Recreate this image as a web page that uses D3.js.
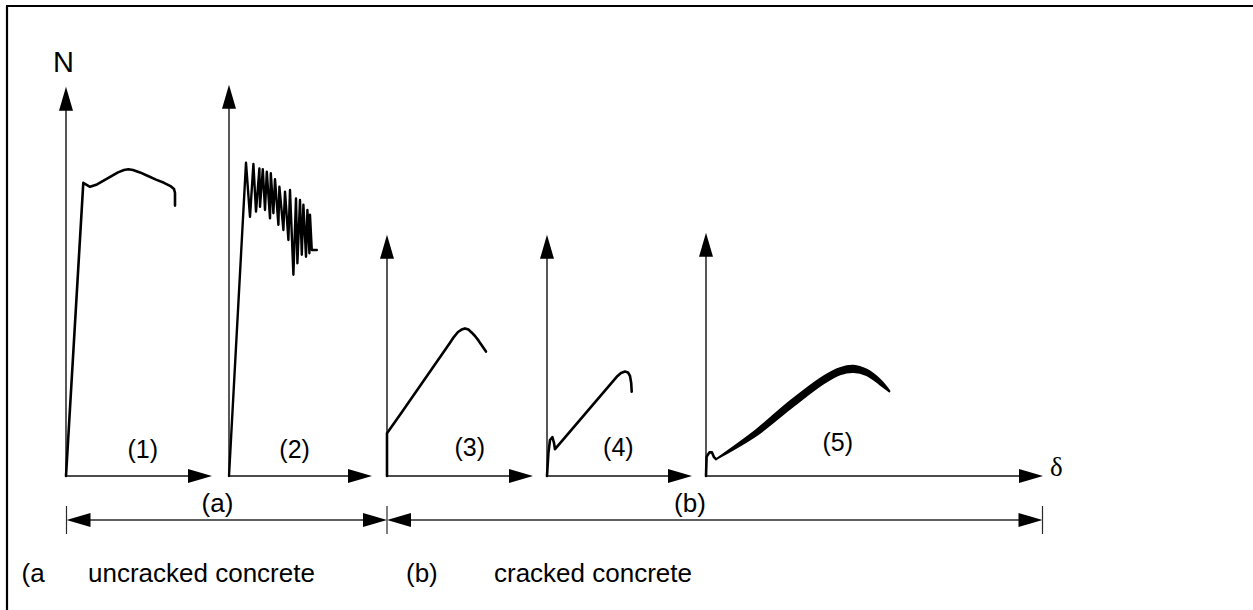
<!DOCTYPE html>
<html>
<head>
<meta charset="utf-8">
<script src="https://cdn.jsdelivr.net/npm/d3@7"></script>
<style>
  html, body { margin: 0; padding: 0; background: #fff; }
  svg { display: block; }
</style>
</head>
<body>
<div id="chart"></div>
<script>
/* Load (N) versus displacement (delta) curves.
** Units are arbitrary: every panel uses the same N scale, delta starts
** at 0 on each panel's own origin. Each point is [delta, N].
*/
var curve1 = [[0, 0], [8.65, 73.3], [12, 72.3], [15.5, 72.9], [19, 73.9], [22.5, 74.9], [26, 75.9],
              [29, 76.5], [31.2, 76.7], [33.5, 76.5], [37, 75.9], [41, 75], [45, 74.1], [49, 73.3],
              [52.5, 72.4], [54, 71.75], [54.5, 70.75], [54.5, 67.6]];

// (2) jumps up and down, so the points are the tops and bottoms of the teeth
var curve2 = [[0, 0], [8.5, 78.3], [10.5, 64.8], [12.2, 78], [13.5, 66.1], [15.2, 76.9], [15.5, 67.3],
              [16.9, 76.7], [18, 66.5], [18.9, 76.1], [20.5, 64.4], [20.9, 75.7], [22.2, 65.7],
              [23, 74.2], [24.7, 62.8], [25.2, 72.3], [27.2, 61.5], [28, 71.1], [29.7, 59],
              [30.5, 71.5], [32.2, 50.3], [33.5, 69.4], [34.2, 53.2], [35.5, 69], [36.4, 55.3],
              [37.2, 67.8], [38.5, 54.8], [39.2, 66.5], [40.2, 55.7], [40.5, 65.3], [41.4, 56.5],
              [43.9, 56.5]];

var curve3 = [[0, 0], [0, 10.7], [8, 16.4], [16.5, 22.5], [25, 28.6], [29, 31.5], [31.5, 33.3],
              [33.5, 34.8], [35.5, 36], [37.3, 36.6], [39, 36.9], [40.7, 36.6], [42.3, 35.9],
              [44, 35], [45.7, 33.9], [47.6, 32.5], [49.5, 31.1]];

var curve4 = [[0, 0], [0.7, 5.7], [1.5, 9], [2.7, 9.7], [3.5, 8.3], [4, 6.7], [34.85, 24.8],
              [37, 25.75], [39, 26.1], [40.5, 25.9], [41.5, 25], [42.1, 23.25], [42.35, 21.1]];

// (5) starts with a small hook, then the loops form a band: upper and lower edge
var curve5Hook = [[0, 0], [0.3, 4.8], [1.7, 5.9], [3, 5.9], [4, 4.7], [5, 4.2]];
var band5Delta = [5, 25.3, 42, 58.7, 67, 73.7, 80.3, 87, 91.7];
var band5Upper = [4.2, 11.6, 18.7, 24.9, 27, 27.6, 26.6, 24.1, 21.3];
var band5Lower = [4.2, 10.2, 16.8, 23.1, 25.4, 26, 25.2, 22.9, 21.1];

// Axis lengths of each panel (N max, delta max), same units as the curves
var axisNMax = [97.3, 97.8, 60.3, 60.3, 60.8];
var axisDeltaMax = [73, 71.5, 73, 72.5, 168.5];

var panelLabels = ["(1)", "(2)", "(3)", "(4)", "(5)"];
var groupLabels = ["(a)", "(b)"];
var legendKeys = ["(a", "(b)"];
var legendTexts = ["uncracked concrete", "cracked concrete"];
var yTitle = "N";
var xTitle = "\u03b4";

/* Layout of the drawing */
var config = {
    width: 1253,
    height: 610,
    origins: [66, 229, 387, 547, 706],   // x of each panel origin
    baseline: 476,                       // y of N = 0
    pxPerN: 4,
    pxPerDelta: 2,
    labelAt: [[38.4, 4.4], [32.8, 4.4], [41.4, 5], [35.7, 5], [65.9, 6.2]],
    arrowLen: 24,
    arrowHalf: 7,
    dimY: 520,
    dimTick: [506, 534],
    fontFamily: 'Arial, "Liberation Sans", sans-serif',
    serif: '"Times New Roman", "Liberation Serif", serif',
    colors: { curve: '#000000', axis: '#111111', dim: '#2a2a2a', text: '#000000' }
};

var svg = d3.select("#chart").append("svg")
    .attr("width", config.width)
    .attr("height", config.height);

// frame: only the top and left edges show in the figure
svg.append("line").attr("x1", 6).attr("x2", config.width).attr("y1", 6).attr("y2", 6)
    .attr("stroke", "#000").attr("stroke-width", 2.2);
svg.append("line").attr("x1", 7).attr("x2", 7).attr("y1", 6).attr("y2", config.height)
    .attr("stroke", "#000").attr("stroke-width", 2.2);

var yScale = d3.scaleLinear()
    .domain([0, 100])
    .range([config.baseline, config.baseline - 100 * config.pxPerN]);

function xScaleFor(i) {
    var x0 = config.origins[i];
    return d3.scaleLinear().domain([0, 100]).range([x0, x0 + 100 * config.pxPerDelta]);
}

// arrowhead as a triangle, tip at (x, y) pointing in direction (dx, dy)
function arrowHead(g, x, y, dx, dy) {
    var L = config.arrowLen, H = config.arrowHalf;
    var bx = x - dx * L, by = y - dy * L;
    var px = -dy * H, py = dx * H;
    g.append("path")
        .attr("d", "M" + x + "," + y + "L" + (bx + px) + "," + (by + py) + "L" + (bx - px) + "," + (by - py) + "Z")
        .attr("fill", "#000");
}

var curves = [curve1, curve2, curve3, curve4, curve5Hook];

curves.forEach(function (data, i) {
    var xs = xScaleFor(i);
    var g = svg.append("g");

    // axes
    var ox = xs(0), oy = yScale(0);
    var yTop = yScale(axisNMax[i]);
    var xEnd = xs(axisDeltaMax[i]);
    g.append("line")
        .attr("x1", ox).attr("y1", oy).attr("x2", ox).attr("y2", yTop + config.arrowLen - 2)
        .attr("stroke", config.colors.axis).attr("stroke-width", 1.4);
    arrowHead(g, ox, yTop, 0, -1);
    g.append("line")
        .attr("x1", ox).attr("y1", oy).attr("x2", xEnd - config.arrowLen + 2).attr("y2", oy)
        .attr("stroke", config.colors.axis).attr("stroke-width", 1.4);
    arrowHead(g, xEnd, oy, 1, 0);

    // curve
    var line = d3.line()
        .x(function (d) { return xs(d[0]); })
        .y(function (d) { return yScale(d[1]); });
    g.append("path")
        .datum(data)
        .attr("d", line)
        .attr("fill", "none")
        .attr("stroke", config.colors.curve)
        .attr("stroke-width", i === 1 ? 2.4 : 2.6)
        .attr("stroke-linejoin", "round")
        .attr("stroke-linecap", "round");

    // panel number
    g.append("text")
        .attr("x", xs(config.labelAt[i][0]))
        .attr("y", yScale(config.labelAt[i][1]))
        .attr("text-anchor", "middle")
        .attr("font-family", config.fontFamily)
        .attr("font-size", 25)
        .attr("fill", config.colors.text)
        .text(panelLabels[i]);
});

// (5): band of loops
var xs5 = xScaleFor(4);
var band = band5Delta.map(function (d, k) { return [d, band5Lower[k], band5Upper[k]]; });
var area = d3.area()
    .x(function (d) { return xs5(d[0]); })
    .y0(function (d) { return yScale(d[1]); })
    .y1(function (d) { return yScale(d[2]); })
    .curve(d3.curveCatmullRom.alpha(0.5));
svg.append("path")
    .datum(band)
    .attr("d", area)
    .attr("fill", config.colors.curve)
    .attr("stroke", config.colors.curve)
    .attr("stroke-width", 1.8)
    .attr("stroke-linejoin", "round");

// axis titles
svg.append("text")
    .attr("x", 53).attr("y", 72)
    .attr("font-family", config.fontFamily)
    .attr("font-size", 29)
    .attr("fill", config.colors.text)
    .text(yTitle);
svg.append("text")
    .attr("x", xs5(axisDeltaMax[4]) + 7).attr("y", config.baseline)
    .attr("font-family", config.serif)
    .attr("font-size", 27)
    .attr("fill", config.colors.text)
    .text(xTitle);

// dimension lines (a) and (b), spanning the panels
var dimEnds = [
    [config.origins[0] + 0.5, config.origins[2]],
    [config.origins[2], xs5(axisDeltaMax[4]) - 0.5]
];
var groupLabelX = [217.5, 690];
var dim = svg.append("g");
dimEnds.forEach(function (e, k) {
    dim.append("line")
        .attr("x1", e[0] + config.arrowLen - 2).attr("x2", e[1] - config.arrowLen + 2)
        .attr("y1", config.dimY).attr("y2", config.dimY)
        .attr("stroke", config.colors.dim).attr("stroke-width", 1.4);
    arrowHead(dim, e[0], config.dimY, -1, 0);
    arrowHead(dim, e[1], config.dimY, 1, 0);
    dim.append("text")
        .attr("x", groupLabelX[k]).attr("y", 512)
        .attr("text-anchor", "middle")
        .attr("font-family", config.fontFamily)
        .attr("font-size", 26)
        .attr("fill", config.colors.text)
        .text(groupLabels[k]);
});
[dimEnds[0][0], dimEnds[0][1], dimEnds[1][1]].forEach(function (x) {
    dim.append("line")
        .attr("x1", x).attr("x2", x)
        .attr("y1", config.dimTick[0]).attr("y2", config.dimTick[1])
        .attr("stroke", config.colors.dim).attr("stroke-width", 1.2);
});

// legend row
var keyX = [21.5, 406];
var textX = [88, 494];
legendKeys.forEach(function (key, k) {
    svg.append("text")
        .attr("x", keyX[k]).attr("y", 582)
        .attr("font-family", config.fontFamily)
        .attr("font-size", 26)
        .attr("fill", config.colors.text)
        .text(key);
    svg.append("text")
        .attr("x", textX[k]).attr("y", 582)
        .attr("font-family", config.fontFamily)
        .attr("font-size", 26)
        .attr("fill", config.colors.text)
        .text(legendTexts[k]);
});
</script>
</body>
</html>
